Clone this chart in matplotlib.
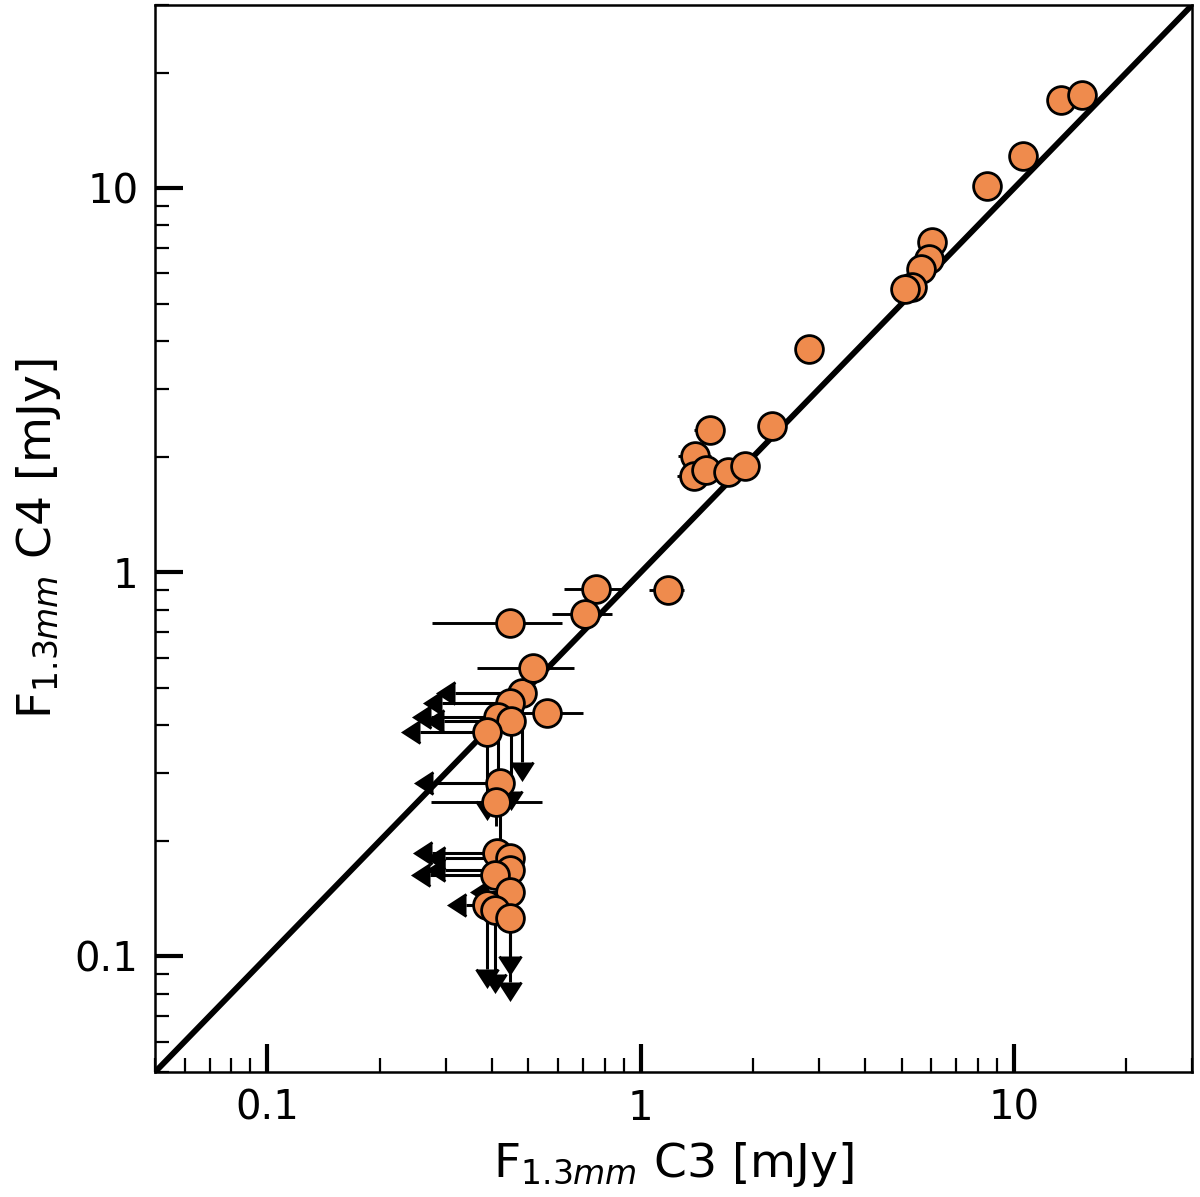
import numpy as np
import matplotlib
matplotlib.use('Agg')
import matplotlib.pyplot as plt
from matplotlib.ticker import FixedLocator, FuncFormatter, NullFormatter

# detected in both configurations (mJy)
f_c3 = [13.36, 15.2, 10.6, 8.47, 6.04, 5.93, 5.64, 5.34, 5.11,
        2.83, 2.25, 1.53, 1.40, 1.39, 1.50, 1.71, 1.90,
        0.758, 0.708, 1.18, 0.446, 0.514, 0.561, 0.410]
f_c4 = [17.0, 17.5, 12.1, 10.15, 7.25, 6.55, 6.17, 5.54, 5.47,
        3.82, 2.40, 2.35, 2.01, 1.78, 1.85, 1.82, 1.89,
        0.903, 0.777, 0.898, 0.736, 0.562, 0.431, 0.253]
err_c3 = [0.14, 0.14, 0.14, 0.14, 0.14, 0.14, 0.14, 0.14, 0.14,
          0.14, 0.14, 0.14, 0.14, 0.14, 0.14, 0.14, 0.14,
          0.135, 0.13, 0.13, 0.17, 0.15, 0.14, 0.135]
err_c4 = [0.035] * len(f_c4)

# sources with an upper limit in at least one configuration
lim_c3 = [0.481, 0.446, 0.415, 0.449, 0.388, 0.420,
          0.412, 0.446, 0.446, 0.407, 0.446, 0.388, 0.407, 0.446]
lim_c4 = [0.486, 0.458, 0.421, 0.409, 0.385, 0.282,
          0.186, 0.180, 0.168, 0.163, 0.147, 0.136, 0.132, 0.126]
is_ul_c3 = [1, 1, 1, 1, 1, 1, 1, 1, 1, 1, 1, 1, 0, 0]
is_ul_c4 = [1, 0, 1, 1, 1, 1, 0, 0, 0, 0, 1, 1, 1, 1]
# fraction of the value covered by the limit arrow
arrow_c3 = [0.34, 0.34, 0.34, 0.34, 0.34, 0.34,
            0.33, 0.33, 0.33, 0.33, 0.12, 0.12, 0.34, 0.34]
arrow_c4 = [0.34, 0.34, 0.34, 0.34, 0.34, 0.34,
            0.34, 0.34, 0.34, 0.34, 0.32, 0.32, 0.32, 0.32]

orange = '#EF8B4D'

fig = plt.figure(figsize=(6, 5.985), dpi=200)
ax = fig.add_axes([0.1292, 0.1044, 0.8642, 0.8914])
ax.set_xscale('log')
ax.set_yscale('log')

lo, hi = 0.05, 30
ax.plot([lo, hi], [lo, hi], color='black', lw=2.1, zorder=1)

# error bars for detections
ax.errorbar(f_c3, f_c4, xerr=err_c3, yerr=err_c4, fmt='none',
            ecolor='black', color='black', elinewidth=1.05, capsize=0, zorder=2)

# upper limit arrows
lim_c3 = np.array(lim_c3)
lim_c4 = np.array(lim_c4)
mx = np.array(is_ul_c3, dtype=bool)
my = np.array(is_ul_c4, dtype=bool)
ax.errorbar(lim_c3[mx], lim_c4[mx], xerr=(lim_c3 * np.array(arrow_c3))[mx],
            xuplims=True, fmt='none', ecolor='black', color='black',
            elinewidth=1.1, capsize=4.0, zorder=2)
ax.errorbar(lim_c3[my], lim_c4[my], yerr=(lim_c4 * np.array(arrow_c4))[my],
            uplims=True, fmt='none', ecolor='black', color='black',
            elinewidth=1.1, capsize=4.0, zorder=2)

ax.plot(lim_c3, lim_c4, 'o', color=orange, markersize=10,
        markeredgecolor='black', markeredgewidth=1.0, zorder=3)
ax.plot(f_c3, f_c4, 'o', color=orange, markersize=10,
        markeredgecolor='black', markeredgewidth=1.0, zorder=3)

ax.set_xlim(lo, hi)
ax.set_ylim(lo, hi)

for axis in (ax.xaxis, ax.yaxis):
    axis.set_major_locator(FixedLocator([0.1, 1, 10]))
    axis.set_major_formatter(FuncFormatter(lambda v, p: '%g' % v))
    axis.set_minor_formatter(NullFormatter())

for side in ax.spines.values():
    side.set_linewidth(0.9)

ax.tick_params(which='both', direction='in', top=False, right=False,
               labelsize=14.5, pad=6)
ax.tick_params(which='major', length=10, width=1.5)
ax.tick_params(which='minor', length=5, width=0.8)

ax.set_xlabel(r'F$_{1.3mm}$ C3 [mJy]', fontsize=17)
ax.set_ylabel(r'F$_{1.3mm}$ C4 [mJy]', fontsize=17)

fig.savefig('out.png', dpi=200)
